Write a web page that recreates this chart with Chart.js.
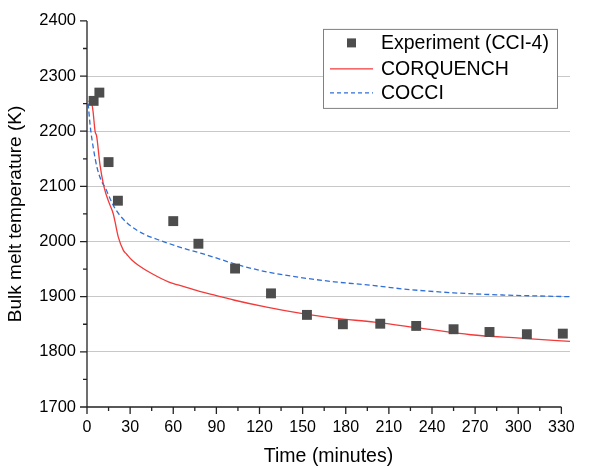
<!DOCTYPE html>
<html>
<head>
<meta charset="utf-8">
<script src="https://cdn.jsdelivr.net/npm/chart.js@4/dist/chart.umd.min.js"></script>
<style>
  html, body { margin: 0; padding: 0; background: #fff; }
  #wrap { width: 592px; height: 468px; }
</style>
</head>
<body>
<div id="wrap"><canvas id="meltChart" width="592" height="468"></canvas></div>
<script>
// axis ticks
const xTicks = [0, 30, 60, 90, 120, 150, 180, 210, 240, 270, 300, 330];
const yTicks = [1700, 1800, 1900, 2000, 2100, 2200, 2300, 2400];

// experiment (CCI-4)
const expTime = [4.6, 8.6, 15, 21.5, 60, 77.5, 103, 128, 153, 178, 204, 229, 255, 280, 306, 331];
const expTemp = [2255, 2270, 2144, 2074, 2037, 1996, 1951, 1906, 1867, 1850, 1851, 1847, 1841, 1836, 1832, 1833];

// CORQUENCH
const corqTime = [1, 3, 4.2, 5.6, 6.7, 9, 11.4, 13, 16, 18.3, 19.5, 21.8, 25.3, 27.6, 31, 35.7, 45, 56.6, 68, 79, 90, 102, 125, 148, 172, 200, 232, 267, 301, 336];
const corqTemp = [2254, 2253, 2236, 2200, 2191, 2140, 2104, 2088, 2066, 2050, 2036, 2008, 1984, 1977, 1967, 1957, 1942, 1927, 1918, 1909, 1902, 1894, 1881, 1870, 1861, 1854, 1843, 1831, 1825, 1819];

// COCCI
const cocciTime = [0.8, 2.3, 4.5, 7, 10, 13, 16, 19.5, 24, 30, 40, 52, 68, 79, 89, 102, 125, 148, 172, 200, 220, 255, 290, 336];
const cocciTemp = [2250, 2208, 2168, 2134, 2110, 2096, 2078, 2060, 2044, 2029, 2013, 2001, 1987, 1979, 1971, 1960, 1945, 1935, 1927, 1920, 1914, 1907, 1903, 1900];

const FONT = '"Liberation Sans", Arial, sans-serif';
const RED = '#f23a3a';
const BLUE = '#2f6fd6';
const MARK = '#4d4d4d';

const pts = (xs, ys) => xs.map((x, i) => ({ x, y: ys[i] }));

// axis lines + major/minor ticks (Origin style, outward)
const axesPlugin = {
  id: 'axesPlugin',
  afterDatasetsDraw(chart) {
    const { ctx, scales: { x, y } } = chart;
    const x0 = x.getPixelForValue(xTicks[0]);
    const x1 = x.getPixelForValue(xTicks[xTicks.length - 1]);
    const yb = y.getPixelForValue(yTicks[0]);
    const yt = y.getPixelForValue(yTicks[yTicks.length - 1]);
    ctx.save();
    ctx.strokeStyle = '#222';
    ctx.lineWidth = 1.3;
    ctx.beginPath();
    ctx.moveTo(x0, yt); ctx.lineTo(x0, yb); ctx.lineTo(x1, yb);
    xTicks.forEach((v, i) => {
      const p = x.getPixelForValue(v);
      ctx.moveTo(p, yb); ctx.lineTo(p, yb + 7);
      if (i < xTicks.length - 1) {
        const m = x.getPixelForValue((v + xTicks[i + 1]) / 2);
        ctx.moveTo(m, yb); ctx.lineTo(m, yb + 4);
      }
    });
    yTicks.forEach((v, i) => {
      const p = y.getPixelForValue(v);
      ctx.moveTo(x0, p); ctx.lineTo(x0 - 7, p);
      if (i < yTicks.length - 1) {
        const m = y.getPixelForValue((v + yTicks[i + 1]) / 2);
        ctx.moveTo(x0, m); ctx.lineTo(x0 - 4, m);
      }
    });
    ctx.stroke();
    ctx.restore();
  }
};

// boxed legend in the top right corner
const legendPlugin = {
  id: 'boxLegend',
  afterDraw(chart) {
    const { ctx, chartArea } = chart;
    const bw = 234, bh = 79;
    const bx = chartArea.right - 13 - bw, by = chartArea.top + 8;
    ctx.save();
    ctx.fillStyle = '#fff';
    ctx.fillRect(bx, by, bw, bh);
    ctx.strokeStyle = '#808080';
    ctx.lineWidth = 1;
    ctx.strokeRect(bx + 0.5, by + 0.5, bw, bh);
    const rows = [by + 14, by + 40, by + 64];
    const sx0 = bx + 7, sx1 = bx + 50, tx = bx + 58;
    // marker
    ctx.fillStyle = MARK;
    ctx.fillRect((sx0 + sx1) / 2 - 4.5, rows[0] - 4.5, 9, 9);
    // red line
    ctx.strokeStyle = RED; ctx.lineWidth = 1.3;
    ctx.beginPath(); ctx.moveTo(sx0, rows[1]); ctx.lineTo(sx1, rows[1]); ctx.stroke();
    // blue dashed
    ctx.strokeStyle = BLUE; ctx.setLineDash([4, 3]);
    ctx.beginPath(); ctx.moveTo(sx0, rows[2]); ctx.lineTo(sx1, rows[2]); ctx.stroke();
    ctx.setLineDash([]);
    ctx.fillStyle = '#000';
    ctx.font = '19.5px ' + FONT;
    ctx.textBaseline = 'middle';
    const names = chart.data.datasets.map(d => d.label);
    names.forEach((n, i) => ctx.fillText(n, tx, rows[i] + 1));
    ctx.restore();
  }
};

new Chart(document.getElementById('meltChart'), {
  type: 'scatter',
  data: {
    datasets: [
      {
        label: 'Experiment (CCI-4)',
        data: pts(expTime, expTemp),
        pointStyle: 'rect',
        pointRadius: 7,
        pointBackgroundColor: MARK,
        pointBorderColor: MARK,
        pointBorderWidth: 0,
        showLine: false
      },
      {
        label: 'CORQUENCH',
        data: pts(corqTime, corqTemp),
        showLine: true,
        borderColor: RED,
        borderWidth: 1.3,
        pointRadius: 0,
        cubicInterpolationMode: 'monotone'
      },
      {
        label: 'COCCI',
        data: pts(cocciTime, cocciTemp),
        showLine: true,
        borderColor: BLUE,
        borderWidth: 1.3,
        borderDash: [5, 3],
        pointRadius: 0,
        cubicInterpolationMode: 'monotone'
      }
    ]
  },
  options: {
    responsive: false,
    animation: false,
    layout: { padding: { top: 19, right: 22, left: 0, bottom: 0 } },
    plugins: {
      legend: { display: false },
      tooltip: { enabled: false }
    },
    scales: {
      x: {
        type: 'linear',
        min: 0,
        max: 336,
        afterBuildTicks: s => { s.ticks = xTicks.map(v => ({ value: v })); },
        afterFit: s => { s.height = 61; },
        grid: { display: false, drawTicks: false },
        border: { display: false },
        ticks: { color: '#000', padding: 11, maxRotation: 0, font: { family: FONT, size: 16 }, callback: v => String(v) },
        title: {
          display: true,
          text: 'Time (minutes)',
          color: '#000',
          padding: { top: 0, bottom: 0 },
          font: { family: FONT, size: 19.5 }
        }
      },
      y: {
        min: 1700,
        max: 2400,
        afterBuildTicks: s => { s.ticks = yTicks.map(v => ({ value: v })); },
        afterFit: s => { s.width = 87; },
        grid: {
          drawTicks: false,
          lineWidth: 1,
          color: c => (c.tick && (c.tick.value === yTicks[0] || c.tick.value === yTicks[yTicks.length - 1])) ? 'rgba(0,0,0,0)' : '#c8c8c8'
        },
        border: { display: false },
        ticks: { color: '#000', padding: 11, font: { family: FONT, size: 16.5 }, callback: v => String(v) },
        title: {
          display: true,
          text: 'Bulk melt temperature (K)',
          color: '#000',
          padding: { top: 4, bottom: 0 },
          font: { family: FONT, size: 19 }
        }
      }
    }
  },
  plugins: [axesPlugin, legendPlugin]
});
</script>
</body>
</html>
